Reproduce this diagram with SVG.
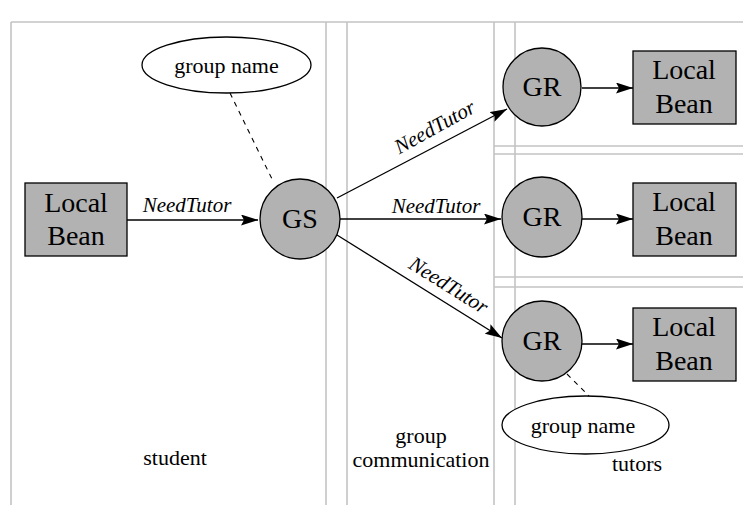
<svg xmlns="http://www.w3.org/2000/svg" width="743" height="505" viewBox="0 0 743 505">
<style>
.lane{fill:none;stroke:#c4c4c4;stroke-width:1.6}
.node{fill:#b2b2b2;stroke:#000;stroke-width:1.3}
.oval{fill:#fff;stroke:#000;stroke-width:1.3}
text{font-family:'Liberation Serif','Times New Roman',Times,serif;fill:#000;text-anchor:middle}
.big{font-size:28px}
.lbl{font-size:22px}
.it{font-size:21px;font-style:italic}
.edge{fill:none;stroke:#000;stroke-width:1.3}
.dash{fill:none;stroke:#000;stroke-width:1.1;stroke-dasharray:5 5}
</style>
<defs>
<marker id="ah" markerUnits="userSpaceOnUse" markerWidth="17" markerHeight="11" refX="17" refY="5.5" orient="auto">
<path d="M0,0 L17,5.5 L0,11 L3,5.5 z" fill="#000"/>
</marker>
</defs>
<g id="lanes">
<path class="lane" d="M11,22 H743 M11,22 V505 M326,22 V505 M347,22 V505 M494,22 V505 M515,22 V505 M494,146 H743 M494,154 H743 M494,277 H743 M494,287 H743"/>
<text class="lbl" x="175" y="465">student</text>
<text class="lbl" x="421" y="443">group</text>
<text class="lbl" x="421" y="467">communication</text>
<text class="lbl" x="637" y="471">tutors</text>
</g>
<g id="connectors">
<line class="edge" x1="127" y1="220" x2="258" y2="220" marker-end="url(#ah)"/>
<text class="it" x="187" y="212">NeedTutor</text>
<line class="edge" x1="337" y1="198" x2="507" y2="109" marker-end="url(#ah)"/>
<text class="it" x="438" y="133" transform="rotate(-29 438 133)">NeedTutor</text>
<line class="edge" x1="340" y1="219" x2="501" y2="219" marker-end="url(#ah)"/>
<text class="it" x="436" y="213">NeedTutor</text>
<line class="edge" x1="337" y1="235" x2="502" y2="338" marker-end="url(#ah)"/>
<text class="it" x="445" y="291" transform="rotate(32 445 291)">NeedTutor</text>
<line class="edge" x1="582" y1="88" x2="633" y2="88" marker-end="url(#ah)"/>
<line class="edge" x1="582" y1="219" x2="633" y2="219" marker-end="url(#ah)"/>
<line class="edge" x1="582" y1="344" x2="633" y2="344" marker-end="url(#ah)"/>
<line class="dash" x1="230" y1="93" x2="272" y2="179"/>
<line class="dash" x1="567" y1="374" x2="589" y2="396"/>
</g>
<g id="localbean-student">
<rect class="node" x="25" y="183" width="102" height="73"/>
<text class="big" x="76" y="212">Local</text>
<text class="big" x="76" y="245">Bean</text>
</g>
<g id="gs">
<circle class="node" cx="300" cy="219" r="40"/>
<text class="big" x="300" y="228">GS</text>
</g>
<g id="groupname-top">
<ellipse class="oval" cx="226.5" cy="65" rx="84.5" ry="28"/>
<text class="lbl" x="226.5" y="73">group name</text>
</g>
<g id="gr1">
<circle class="node" cx="542" cy="87" r="39"/>
<text class="big" x="542" y="96">GR</text>
</g>
<g id="localbean1">
<rect class="node" x="633" y="51" width="103" height="73"/>
<text class="big" x="684" y="79">Local</text>
<text class="big" x="684" y="113">Bean</text>
</g>
<g id="gr2">
<circle class="node" cx="542" cy="217" r="40"/>
<text class="big" x="542" y="226">GR</text>
</g>
<g id="localbean2">
<rect class="node" x="633" y="183" width="103" height="73"/>
<text class="big" x="684" y="211">Local</text>
<text class="big" x="684" y="245">Bean</text>
</g>
<g id="gr3">
<circle class="node" cx="542" cy="341" r="40"/>
<text class="big" x="542" y="350">GR</text>
</g>
<g id="localbean3">
<rect class="node" x="633" y="308" width="103" height="73"/>
<text class="big" x="684" y="336">Local</text>
<text class="big" x="684" y="370">Bean</text>
</g>
<g id="groupname-bottom">
<ellipse class="oval" cx="585.5" cy="425" rx="83.5" ry="29"/>
<text class="lbl" x="583" y="433">group name</text>
</g>
</svg>
